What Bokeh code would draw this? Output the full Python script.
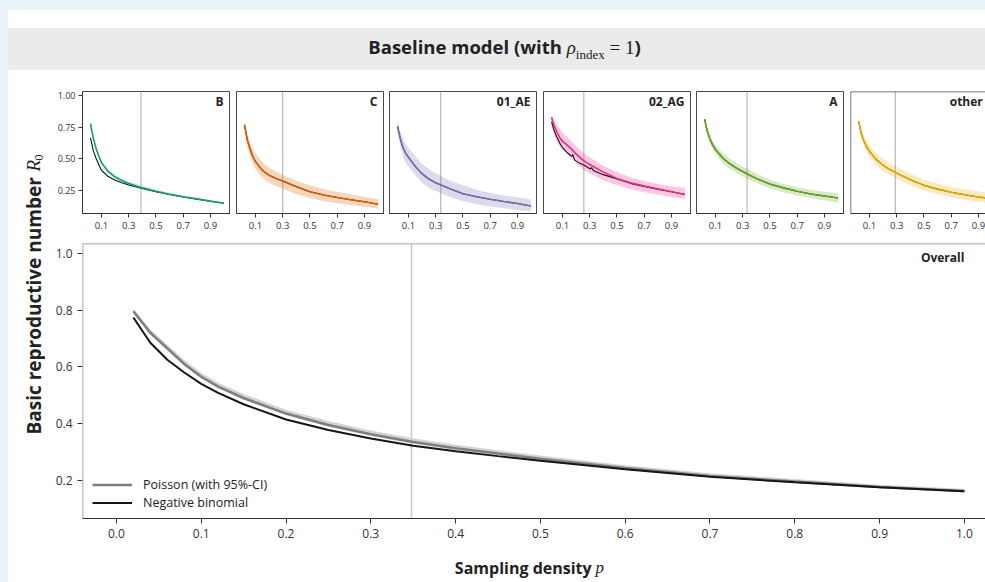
import numpy as np
from bokeh.plotting import figure
from bokeh.models import Range1d, FixedTicker, PrintfTickFormatter, Span, Label, Legend, LegendItem, Div
from bokeh.layouts import row, column
from bokeh.embed import file_html
from bokeh.resources import INLINE
from bokeh.core.properties import value

# ---------------- data ----------------
SUBTYPES = ["B", "C", "01_AE", "02_AG", "A", "other"]
COLORS = ["#1b9e77", "#d95f02", "#7570b3", "#e7298a", "#66a61e", "#e6ab02"]
VLINES = [0.39, 0.30, 0.337, 0.257, 0.332, 0.29]

P_SMALL = [0.02, 0.04, 0.06, 0.08, 0.1, 0.15, 0.2, 0.25, 0.3, 0.4, 0.5, 0.6, 0.7, 0.8, 0.9, 1.0]

B_MEAN = [0.78, 0.665, 0.585, 0.525, 0.47, 0.40, 0.356, 0.328, 0.305, 0.27, 0.243, 0.22, 0.2, 0.183, 0.165, 0.148]
B_LO = [0.77, 0.65, 0.57, 0.51, 0.455, 0.385, 0.343, 0.315, 0.293, 0.259, 0.233, 0.211, 0.192, 0.175, 0.158, 0.142]
B_HI = [0.79, 0.68, 0.60, 0.54, 0.485, 0.415, 0.372, 0.343, 0.32, 0.285, 0.256, 0.232, 0.21, 0.192, 0.173, 0.155]
B_NB = [0.666, 0.565, 0.505, 0.455, 0.41, 0.36, 0.33, 0.31, 0.293, 0.265, 0.24, 0.218, 0.198, 0.181, 0.164, 0.148]

C_MEAN = [0.77, 0.65, 0.58, 0.52, 0.48, 0.41, 0.37, 0.345, 0.325, 0.28, 0.24, 0.214, 0.194, 0.176, 0.16, 0.14]
C_LO = [0.74, 0.6, 0.52, 0.46, 0.42, 0.35, 0.31, 0.285, 0.265, 0.22, 0.19, 0.165, 0.148, 0.132, 0.12, 0.107]
C_HI = [0.80, 0.7, 0.635, 0.585, 0.545, 0.475, 0.43, 0.4, 0.375, 0.325, 0.29, 0.262, 0.24, 0.22, 0.2, 0.18]

AE_MEAN = [0.758, 0.66, 0.59, 0.545, 0.513, 0.44, 0.382, 0.34, 0.31, 0.265, 0.224, 0.2, 0.18, 0.162, 0.146, 0.127]
AE_LO = [0.72, 0.6, 0.52, 0.47, 0.44, 0.37, 0.31, 0.27, 0.245, 0.2, 0.165, 0.14, 0.122, 0.108, 0.095, 0.085]
AE_HI = [0.81, 0.72, 0.66, 0.62, 0.59, 0.52, 0.46, 0.42, 0.385, 0.33, 0.29, 0.255, 0.23, 0.21, 0.195, 0.18]

AG_MEAN = [0.83, 0.76, 0.71, 0.67, 0.64, 0.595, 0.54, 0.49, 0.455, 0.395, 0.345, 0.31, 0.285, 0.262, 0.24, 0.218]
AG_LO = [0.765, 0.69, 0.64, 0.6, 0.57, 0.52, 0.465, 0.415, 0.385, 0.33, 0.29, 0.26, 0.235, 0.215, 0.198, 0.183]
AG_HI = [0.845, 0.8, 0.77, 0.74, 0.71, 0.655, 0.6, 0.55, 0.51, 0.445, 0.395, 0.355, 0.325, 0.3, 0.283, 0.269]
P_AG_NB = [0.02, 0.04, 0.06, 0.08, 0.1, 0.13, 0.16, 0.17, 0.175, 0.19, 0.22, 0.257, 0.29, 0.305, 0.312, 0.33,
           0.4, 0.5, 0.6, 0.7, 0.8, 0.9, 1.0]
AG_NB = [0.796, 0.72, 0.67, 0.625, 0.59, 0.555, 0.527, 0.52, 0.535, 0.49, 0.47, 0.451, 0.43, 0.42, 0.43, 0.405,
         0.375, 0.34, 0.306, 0.282, 0.26, 0.24, 0.218]

A_MEAN = [0.816, 0.72, 0.655, 0.61, 0.575, 0.51, 0.465, 0.43, 0.4, 0.345, 0.3, 0.27, 0.243, 0.222, 0.206, 0.19]
A_LO = [0.79, 0.69, 0.62, 0.575, 0.54, 0.47, 0.425, 0.39, 0.36, 0.31, 0.265, 0.235, 0.21, 0.19, 0.17, 0.155]
A_HI = [0.83, 0.75, 0.69, 0.645, 0.61, 0.55, 0.505, 0.47, 0.44, 0.385, 0.335, 0.3, 0.275, 0.255, 0.24, 0.23]

O_MEAN = [0.80, 0.70, 0.64, 0.595, 0.56, 0.495, 0.45, 0.415, 0.387, 0.335, 0.29, 0.26, 0.235, 0.215, 0.198, 0.183]
O_LO = [0.775, 0.665, 0.6, 0.55, 0.515, 0.45, 0.405, 0.37, 0.34, 0.29, 0.25, 0.22, 0.195, 0.175, 0.16, 0.145]
O_HI = [0.82, 0.74, 0.68, 0.64, 0.605, 0.545, 0.5, 0.465, 0.435, 0.385, 0.335, 0.305, 0.28, 0.26, 0.242, 0.228]

P_MAIN = [0.02, 0.04, 0.06, 0.08, 0.1, 0.12, 0.15, 0.2, 0.25, 0.3, 0.35, 0.4, 0.45, 0.5, 0.6, 0.7, 0.8, 0.9, 1.0]
POIS = [0.796, 0.72, 0.665, 0.61, 0.565, 0.53, 0.49, 0.435, 0.395, 0.362, 0.335, 0.313, 0.294, 0.276, 0.243, 0.215, 0.195, 0.176, 0.162]
POIS_LO = [0.79, 0.714, 0.659, 0.604, 0.559, 0.524, 0.484, 0.429, 0.389, 0.356, 0.329, 0.307, 0.289, 0.271, 0.238, 0.211, 0.191, 0.172, 0.158]
POIS_HI = [0.805, 0.732, 0.678, 0.624, 0.579, 0.544, 0.504, 0.449, 0.409, 0.375, 0.348, 0.325, 0.306, 0.287, 0.253, 0.225, 0.204, 0.184, 0.17]
NEGBIN = [0.774, 0.685, 0.625, 0.58, 0.54, 0.508, 0.468, 0.414, 0.377, 0.347, 0.322, 0.302, 0.285, 0.269, 0.239, 0.212, 0.193, 0.175, 0.161]
MAIN_VLINE = 0.348

SMALL_X_TICKS = [0.1, 0.3, 0.5, 0.7, 0.9]
SMALL_Y_TICKS = [0.25, 0.5, 0.75, 1.0]
MAIN_X_TICKS = [0.0, 0.1, 0.2, 0.3, 0.4, 0.5, 0.6, 0.7, 0.8, 0.9, 1.0]
MAIN_Y_TICKS = [0.2, 0.4, 0.6, 0.8, 1.0]

PANELS = [
    (B_MEAN, B_LO, B_HI, P_SMALL, B_NB),
    (C_MEAN, C_LO, C_HI, P_SMALL, C_MEAN),
    (AE_MEAN, AE_LO, AE_HI, P_SMALL, AE_MEAN),
    (AG_MEAN, AG_LO, AG_HI, P_AG_NB, AG_NB),
    (A_MEAN, A_LO, A_HI, P_SMALL, A_MEAN),
    (O_MEAN, O_LO, O_HI, P_SMALL, O_MEAN),
]

# ---------------- style ----------------
FONT = "Open Sans"
BLUE_BG = "#e8f4fa"
TXT = "#333333"
FRAME = "#4a4a4a"

# layout (px)
SMALL_W = [185, 154, 153, 154, 153, 141]
SMALL_LB = [37, 6, 5, 6, 5, 6]
SMALL_X0 = -0.039
SMALL_SCALE = 136.25  # px per unit of p


def style_axis(ax, size):
    ax.major_label_text_font = FONT
    ax.major_label_text_font_size = size
    ax.major_label_text_color = TXT
    ax.axis_line_color = "#333333"
    ax.major_tick_line_color = "#333333"
    ax.major_tick_in = 0
    ax.minor_tick_line_color = None


small_figs = []
for i, name in enumerate(SUBTYPES):
    mean, lo, hi, pnb, nb = PANELS[i]
    last = i == len(SUBTYPES) - 1
    frame_w = SMALL_W[i] - SMALL_LB[i]
    x_end = SMALL_X0 + frame_w / SMALL_SCALE
    f = figure(width=SMALL_W[i], height=172, output_backend="svg", toolbar_location=None,
               x_range=Range1d(SMALL_X0, x_end), y_range=Range1d(0.067, 1.034),
               y_axis_location="left" if i == 0 else None,
               min_border_left=SMALL_LB[i], min_border_right=0, min_border_top=21, min_border_bottom=29)
    f.grid.visible = False
    f.background_fill_color = "white"
    f.border_fill_color = "white"
    if last:
        f.outline_line_color = None
        f.add_layout(Span(location=SMALL_X0, dimension="height", line_color=FRAME, line_width=1.5))
        f.add_layout(Span(location=1.034, dimension="width", line_color=FRAME, line_width=1.5))
    else:
        f.outline_line_color = FRAME
        f.outline_line_width = 1
    f.add_layout(Span(location=VLINES[i], dimension="height", line_color="#bdbdbd", line_width=1.3, level="underlay"))
    f.varea(x=P_SMALL, y1=lo, y2=hi, fill_color=COLORS[i], fill_alpha=0.25)
    f.line(pnb, nb, line_color="#111111", line_width=1.1)
    f.line(P_SMALL, mean, line_color=COLORS[i], line_width=1.6)
    f.xaxis.ticker = FixedTicker(ticks=SMALL_X_TICKS)
    f.xaxis.formatter = PrintfTickFormatter(format="%.1f")
    style_axis(f.xaxis[0], "9.5px")
    f.xaxis.major_tick_out = 4
    f.xaxis.major_label_standoff = 4
    if i == 0:
        f.yaxis.ticker = FixedTicker(ticks=SMALL_Y_TICKS)
        f.yaxis.formatter = PrintfTickFormatter(format="%.2f")
        style_axis(f.yaxis[0], "9px")
        f.yaxis.major_tick_out = 4
        f.yaxis.major_label_standoff = 3
    lab_x = 0.996 if not last else x_end - 0.02
    f.add_layout(Label(x=lab_x, y=0.953, text=name, text_align="right", text_baseline="middle",
                       text_font=FONT, text_font_style="bold", text_font_size="12px", text_color="#222222"))
    small_figs.append(f)

# main panel
m = figure(width=940, height=308, output_backend="svg", toolbar_location=None,
           x_range=Range1d(-0.04, 1.0249), y_range=Range1d(0.065, 1.035),
           min_border_left=37, min_border_right=0, min_border_top=1, min_border_bottom=32)
m.grid.visible = False
m.outline_line_color = None
m.background_fill_color = "white"
m.border_fill_color = "white"
m.add_layout(Span(location=-0.04, dimension="height", line_color="#8a8a8a", line_width=1.5))
m.add_layout(Span(location=1.035, dimension="width", line_color="#8a8a8a", line_width=1.5))
m.add_layout(Span(location=MAIN_VLINE, dimension="height", line_color="#c8c8c8", line_width=1.5, level="underlay"))
m.varea(x=P_MAIN, y1=POIS_LO, y2=POIS_HI, fill_color="#d4d4d4", fill_alpha=1.0)
r_pois = m.line(P_MAIN, POIS, line_color="#7f7f7f", line_width=2.6)
r_nb = m.line(P_MAIN, NEGBIN, line_color="#151515", line_width=2.0)
m.xaxis.ticker = FixedTicker(ticks=MAIN_X_TICKS)
m.xaxis.formatter = PrintfTickFormatter(format="%.1f")
m.yaxis.ticker = FixedTicker(ticks=MAIN_Y_TICKS)
m.yaxis.formatter = PrintfTickFormatter(format="%.1f")
for ax in (m.xaxis[0], m.yaxis[0]):
    style_axis(ax, "12px")
    ax.major_tick_out = 5
    ax.major_label_standoff = 5
m.yaxis.axis_line_color = None
m.add_layout(Label(x=1.0, y=0.984, text="Overall", text_align="right", text_baseline="middle",
                   text_font=FONT, text_font_style="bold", text_font_size="12px", text_color="#222222"))
legend = Legend(items=[LegendItem(label="Poisson (with 95%-CI)", renderers=[r_pois]),
                       LegendItem(label="Negative binomial", renderers=[r_nb])],
                location=(10, 7), padding=10, margin=0, spacing=1,
                glyph_width=40, glyph_height=15, label_height=15, label_standoff=11,
                label_text_font=FONT, label_text_font_size="12.5px", label_text_color="#222222",
                background_fill_alpha=0, border_line_color=None)
m.add_layout(legend)

# x label strip
xl = figure(width=940, height=32, output_backend="svg", toolbar_location=None,
            x_range=Range1d(0, 940), y_range=Range1d(0, 32), min_border=0,
            x_axis_location=None, y_axis_location=None)
xl.grid.visible = False
xl.outline_line_color = None
xl.border_fill_color = "white"
xl.background_fill_color = "white"
xl.text(x=[530], y=[15], text=["Sampling density"], text_align="right", text_baseline="middle",
        text_font=value(FONT), text_font_style="bold", text_font_size=value("16px"), text_color="#222222")
xl.text(x=[534], y=[15], text=["p"], text_align="left", text_baseline="middle",
        text_font=value("Liberation Serif"), text_font_style="italic", text_font_size=value("17px"), text_color="#222222")

# y label strip
yl = figure(width=37, height=512, output_backend="svg", toolbar_location=None,
            x_range=Range1d(0, 37), y_range=Range1d(0, 512), min_border=0,
            x_axis_location=None, y_axis_location=None)
yl.grid.visible = False
yl.outline_line_color = None
yl.border_fill_color = "white"
yl.background_fill_color = "white"
yl.text(x=[25], y=[148], text=["Basic reproductive number"], angle=np.pi / 2, text_align="left",
        text_baseline="middle", text_font=value(FONT), text_font_style="bold", text_font_size=value("19px"),
        text_color="#222222")
yl.text(x=[25], y=[411], text=["R"], angle=np.pi / 2, text_align="left", text_baseline="middle",
        text_font=value("Liberation Serif"), text_font_style="italic", text_font_size=value("19px"),
        text_color="#222222")
yl.text(x=[30], y=[422], text=["0"], angle=np.pi / 2, text_align="left", text_baseline="middle",
        text_font=value("Liberation Serif"), text_font_size=value("12px"), text_color="#222222")

title_html = (
    '<div style="height:18px;background:white"></div>'
    '<div style="height:42px;width:977px;box-sizing:border-box;padding-left:16px;background:#ebebeb;display:flex;align-items:center;justify-content:center;">'
    '<span style="font-family:\'Open Sans\';font-weight:bold;font-size:18.5px;color:#222222;white-space:nowrap;">'
    'Baseline model (with <span style="font-family:\'Liberation Serif\';font-weight:normal;font-style:italic;font-size:19px;">&rho;</span>'
    '<sub style="font-family:\'Liberation Serif\';font-weight:normal;font-size:13px;">index</sub>'
    '<span style="font-family:\'Liberation Serif\';font-weight:normal;font-size:19px;"> = 1</span>)</span></div>'
)
title = Div(text=title_html, width=977, height=60, margin=0, styles={"background-color": "white"})

top_blue = Div(text="", width=985, height=10, margin=0, styles={"background-color": BLUE_BG})
left_blue = Div(text="", width=8, height=572, margin=0, styles={"background-color": BLUE_BG})

small_row = row(*small_figs, spacing=0)
right_col = column(small_row, m, xl, spacing=0)
body = row(yl, right_col, spacing=0)
card = column(title, body, spacing=0)
root = column(top_blue, row(left_blue, card, spacing=0), spacing=0)

open("out.html", "w").write(file_html(root, INLINE))
